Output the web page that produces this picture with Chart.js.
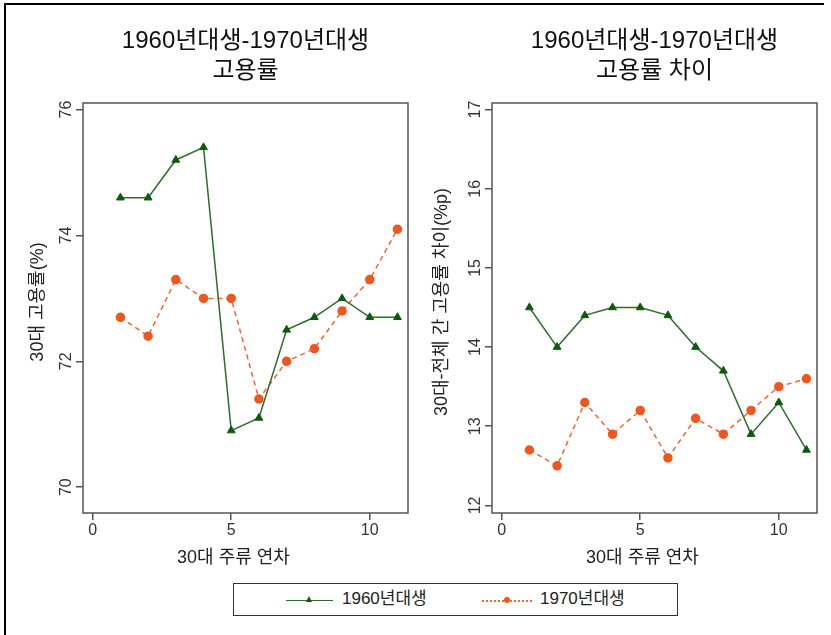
<!DOCTYPE html>
<html>
<head>
<meta charset="utf-8">
<script src="https://cdn.jsdelivr.net/npm/chart.js@4.4.1/dist/chart.umd.min.js"></script>
<style>
  body { margin: 0; background: #fff; width: 831px; height: 635px; overflow: hidden; position: relative;
         font-family: "Liberation Sans", "Noto Sans CJK KR", sans-serif; }
  .frame { position: absolute; left: 4px; top: 3px; width: 818px; height: 640px;
           border-top: 2px solid #000; border-left: 2px solid #000; }
  canvas { position: absolute; top: 0; }
  #left { left: 0; }
  #right { left: 415px; }
  .legend { position: absolute; left: 233px; top: 583px; width: 443px; height: 31px; border: 1.5px solid #333; }
  .leg-line { position: absolute; top: 600px; height: 0; }
  .leg-text { position: absolute; top: 588px; font-size: 17px; color: #222; line-height: 22px; }
  .mk { position: absolute; }
</style>
</head>
<body>
<div class="frame"></div>
<canvas id="left" width="415" height="575"></canvas>
<canvas id="right" width="416" height="575"></canvas>

<div class="legend"></div>
<div class="leg-line" style="left:286px;width:47px;border-top:1.5px solid #2b6e2b;"></div>
<div class="mk" style="left:306px;top:596px;width:0;height:0;border-left:3.5px solid transparent;border-right:3.5px solid transparent;border-bottom:6px solid #0d5a0d;"></div>
<div class="leg-text" style="left:342px;" id="leg1"></div>
<div class="leg-line" style="left:482px;width:50px;border-top:2px dotted #f26430;"></div>
<div class="mk" style="left:504px;top:597px;width:6px;height:6px;border-radius:50%;background:#f0561e;"></div>
<div class="leg-text" style="left:540px;" id="leg2"></div>

<script>
// 30대 주류 연차
const years = [1, 2, 3, 4, 5, 6, 7, 8, 9, 10, 11];
// 고용률 (%)
const rate1960 = [74.6, 74.6, 75.2, 75.4, 70.9, 71.1, 72.5, 72.7, 73.0, 72.7, 72.7];
const rate1970 = [72.7, 72.4, 73.3, 73.0, 73.0, 71.4, 72.0, 72.2, 72.8, 73.3, 74.1];
// 30대-전체 간 고용률 차이 (%p)
const gap1960 = [14.5, 14.0, 14.4, 14.5, 14.5, 14.4, 14.0, 13.7, 12.9, 13.3, 12.7];
const gap1970 = [12.7, 12.5, 13.3, 12.9, 13.2, 12.6, 13.1, 12.9, 13.2, 13.5, 13.6];

const xTicks = [0, 5, 10];
const rateTicks = [70, 72, 74, 76];
const gapTicks = [12, 13, 14, 15, 16, 17];

const seriesNames = ['1960년대생', '1970년대생'];
document.getElementById('leg1').textContent = seriesNames[0];
document.getElementById('leg2').textContent = seriesNames[1];

const FONT = '"Liberation Sans", "Noto Sans CJK KR", sans-serif';

// 축 눈금, 제목, 테두리 직접 그리기 (Stata 스타일)
const stataText = {
  id: 'stataText',
  afterDraw(chart, args, o) {
    const { ctx, chartArea: a, scales: { x, y } } = chart;
    ctx.save();
    ctx.strokeStyle = '#555';
    ctx.lineWidth = 1.5;
    ctx.strokeRect(a.left, a.top, a.right - a.left, a.bottom - a.top);

    ctx.fillStyle = '#333';
    ctx.textAlign = 'center';
    ctx.textBaseline = 'middle';
    ctx.font = '16px ' + FONT;
    y.ticks.forEach(t => {
      ctx.save();
      ctx.translate(a.left - 16, y.getPixelForValue(t.value));
      ctx.rotate(-Math.PI / 2);
      ctx.fillText(String(t.value), 0, 0);
      ctx.restore();
    });
    x.ticks.forEach(t => ctx.fillText(String(t.value), x.getPixelForValue(t.value), 531));

    ctx.fillStyle = '#222';
    ctx.font = '18px ' + FONT;
    ctx.fillText(o.xTitle, (a.left + a.right) / 2 - 12, 558);
    ctx.save();
    ctx.translate(o.yTitleX, 302);
    ctx.rotate(-Math.PI / 2);
    ctx.fillText(o.yTitle, 0, 0);
    ctx.restore();

    ctx.fillStyle = '#111';
    ctx.font = '24px ' + FONT;
    o.title.forEach((line, i) => ctx.fillText(line, (a.left + a.right) / 2, 41 + i * 30));
    ctx.restore();
  }
};

function makePanel(id, s1960, s1970, yTicks, yMin, yMax, axisW, padRight, opts) {
  new Chart(document.getElementById(id), {
    type: 'line',
    data: {
      datasets: [{
        label: seriesNames[0],
        data: years.map((v, i) => ({ x: v, y: s1960[i] })),
        borderColor: '#2b6e2b',
        borderWidth: 1.5,
        pointStyle: 'triangle',
        pointRadius: 4.5,
        pointBackgroundColor: '#0d5a0d',
        pointBorderColor: '#0d5a0d',
        pointBorderWidth: 1,
        tension: 0
      }, {
        label: seriesNames[1],
        data: years.map((v, i) => ({ x: v, y: s1970[i] })),
        borderColor: '#f26430',
        borderWidth: 1.5,
        borderDash: [5, 4],
        pointStyle: 'circle',
        pointRadius: 4,
        pointBackgroundColor: '#f0561e',
        pointBorderColor: '#f0561e',
        tension: 0
      }]
    },
    options: {
      responsive: false,
      animation: false,
      layout: { padding: { top: 103, right: padRight, bottom: 0, left: 0 } },
      plugins: {
        legend: { display: false },
        tooltip: { enabled: false },
        title: { display: false },
        stataText: opts
      },
      scales: {
        x: {
          type: 'linear',
          min: -0.35,
          max: 11.38,
          afterBuildTicks: sc => { sc.ticks = xTicks.map(v => ({ value: v })); },
          afterFit: sc => { sc.height = 62; },
          ticks: { display: false },
          border: { display: false },
          grid: { drawOnChartArea: false, drawTicks: true, tickLength: 7, color: '#555', lineWidth: 1.5 }
        },
        y: {
          min: yMin,
          max: yMax,
          afterBuildTicks: sc => { sc.ticks = yTicks.map(v => ({ value: v })); },
          afterFit: sc => { sc.width = axisW; },
          ticks: { display: false },
          border: { display: false },
          grid: { drawOnChartArea: false, drawTicks: true, tickLength: 7, color: '#555', lineWidth: 1.5 }
        }
      }
    },
    plugins: [stataText]
  });
}

makePanel('left', rate1960, rate1970, rateTicks, 69.59, 76.105, 83, 7, {
  title: ['1960년대생-1970년대생', '고용률'],
  xTitle: '30대 주류 연차',
  yTitle: '30대 고용률(%)',
  yTitleX: 38
});

makePanel('right', gap1960, gap1970, gapTicks, 11.904, 17.083, 77, 14, {
  title: ['1960년대생-1970년대생', '고용률 차이'],
  xTitle: '30대 주류 연차',
  yTitle: '30대-전체 간 고용률 차이(%p)',
  yTitleX: 27
});
</script>
</body>
</html>
